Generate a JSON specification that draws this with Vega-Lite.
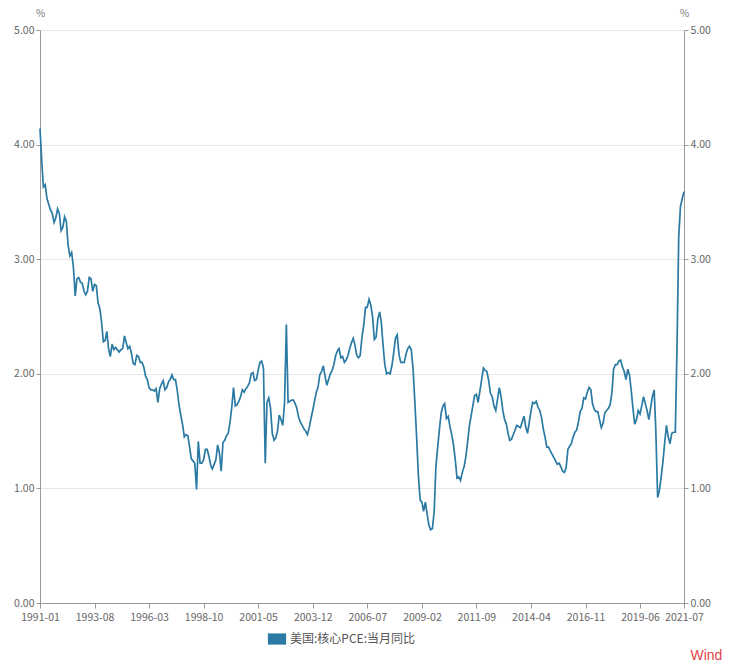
{
"$schema": "https://vega.github.io/schema/vega-lite/v6.json",
"width": 644, "height": 573,
"autosize": {"type": "none"},
"padding": {"left": 40, "top": 30, "right": 66, "bottom": 68},
"background": "white",
"config": {
 "font": "Noto Sans CJK SC",
 "view": {"stroke": null},
 "axis": {"labelColor": "#666", "labelFontSize": 10.5, "domainColor": "#999", "tickColor": "#999", "gridColor": "#e6e6e6", "titleColor": "#777", "titleFontWeight": "normal", "titleFontSize": 10}
},
"title": {"text": "Wind", "orient": "bottom", "anchor": "end", "color": "#e0434a", "fontSize": 14, "fontWeight": "normal", "font": "Liberation Sans", "offset": 4, "dx": 12},
"datasets": {"pce": [
{"d":"1991-01","v":4.14},{"d":"1991-02","v":3.85},{"d":"1991-03","v":3.63},{"d":"1991-04","v":3.65},{"d":"1991-05","v":3.53},{"d":"1991-06","v":3.48},{"d":"1991-07","v":3.43},{"d":"1991-08","v":3.40},{"d":"1991-09","v":3.32},{"d":"1991-10","v":3.36},{"d":"1991-11","v":3.44},{"d":"1991-12","v":3.40},
{"d":"1992-01","v":3.25},{"d":"1992-02","v":3.28},{"d":"1992-03","v":3.37},{"d":"1992-04","v":3.33},{"d":"1992-05","v":3.12},{"d":"1992-06","v":3.03},{"d":"1992-07","v":3.06},{"d":"1992-08","v":2.93},{"d":"1992-09","v":2.68},{"d":"1992-10","v":2.83},{"d":"1992-11","v":2.84},{"d":"1992-12","v":2.80},
{"d":"1993-01","v":2.79},{"d":"1993-02","v":2.72},{"d":"1993-03","v":2.69},{"d":"1993-04","v":2.72},{"d":"1993-05","v":2.84},{"d":"1993-06","v":2.83},{"d":"1993-07","v":2.72},{"d":"1993-08","v":2.78},{"d":"1993-09","v":2.77},{"d":"1993-10","v":2.62},{"d":"1993-11","v":2.57},{"d":"1993-12","v":2.45},
{"d":"1994-01","v":2.28},{"d":"1994-02","v":2.29},{"d":"1994-03","v":2.37},{"d":"1994-04","v":2.22},{"d":"1994-05","v":2.15},{"d":"1994-06","v":2.26},{"d":"1994-07","v":2.21},{"d":"1994-08","v":2.23},{"d":"1994-09","v":2.21},{"d":"1994-10","v":2.19},{"d":"1994-11","v":2.21},{"d":"1994-12","v":2.22},
{"d":"1995-01","v":2.33},{"d":"1995-02","v":2.27},{"d":"1995-03","v":2.22},{"d":"1995-04","v":2.24},{"d":"1995-05","v":2.18},{"d":"1995-06","v":2.09},{"d":"1995-07","v":2.08},{"d":"1995-08","v":2.16},{"d":"1995-09","v":2.15},{"d":"1995-10","v":2.10},{"d":"1995-11","v":2.10},{"d":"1995-12","v":2.06},
{"d":"1996-01","v":1.98},{"d":"1996-02","v":1.95},{"d":"1996-03","v":1.88},{"d":"1996-04","v":1.86},{"d":"1996-05","v":1.86},{"d":"1996-06","v":1.85},{"d":"1996-07","v":1.87},{"d":"1996-08","v":1.75},{"d":"1996-09","v":1.87},{"d":"1996-10","v":1.91},{"d":"1996-11","v":1.94},{"d":"1996-12","v":1.86},
{"d":"1997-01","v":1.88},{"d":"1997-02","v":1.93},{"d":"1997-03","v":1.95},{"d":"1997-04","v":1.99},{"d":"1997-05","v":1.95},{"d":"1997-06","v":1.95},{"d":"1997-07","v":1.86},{"d":"1997-08","v":1.73},{"d":"1997-09","v":1.64},{"d":"1997-10","v":1.56},{"d":"1997-11","v":1.45},{"d":"1997-12","v":1.47},
{"d":"1998-01","v":1.46},{"d":"1998-02","v":1.36},{"d":"1998-03","v":1.26},{"d":"1998-04","v":1.24},{"d":"1998-05","v":1.22},{"d":"1998-06","v":0.99},{"d":"1998-07","v":1.41},{"d":"1998-08","v":1.22},{"d":"1998-09","v":1.22},{"d":"1998-10","v":1.25},{"d":"1998-11","v":1.34},{"d":"1998-12","v":1.34},
{"d":"1999-01","v":1.28},{"d":"1999-02","v":1.20},{"d":"1999-03","v":1.17},{"d":"1999-04","v":1.21},{"d":"1999-05","v":1.25},{"d":"1999-06","v":1.38},{"d":"1999-07","v":1.31},{"d":"1999-08","v":1.15},{"d":"1999-09","v":1.40},{"d":"1999-10","v":1.42},{"d":"1999-11","v":1.46},{"d":"1999-12","v":1.48},
{"d":"2000-01","v":1.58},{"d":"2000-02","v":1.71},{"d":"2000-03","v":1.88},{"d":"2000-04","v":1.72},{"d":"2000-05","v":1.73},{"d":"2000-06","v":1.76},{"d":"2000-07","v":1.80},{"d":"2000-08","v":1.86},{"d":"2000-09","v":1.84},{"d":"2000-10","v":1.87},{"d":"2000-11","v":1.89},{"d":"2000-12","v":1.92},
{"d":"2001-01","v":2.00},{"d":"2001-02","v":2.01},{"d":"2001-03","v":1.94},{"d":"2001-04","v":1.95},{"d":"2001-05","v":2.03},{"d":"2001-06","v":2.10},{"d":"2001-07","v":2.11},{"d":"2001-08","v":2.05},{"d":"2001-09","v":1.22},{"d":"2001-10","v":1.75},{"d":"2001-11","v":1.79},{"d":"2001-12","v":1.70},
{"d":"2002-01","v":1.48},{"d":"2002-02","v":1.42},{"d":"2002-03","v":1.44},{"d":"2002-04","v":1.50},{"d":"2002-05","v":1.64},{"d":"2002-06","v":1.60},{"d":"2002-07","v":1.55},{"d":"2002-08","v":1.75},{"d":"2002-09","v":2.43},{"d":"2002-10","v":1.75},{"d":"2002-11","v":1.76},{"d":"2002-12","v":1.77},
{"d":"2003-01","v":1.77},{"d":"2003-02","v":1.74},{"d":"2003-03","v":1.70},{"d":"2003-04","v":1.62},{"d":"2003-05","v":1.58},{"d":"2003-06","v":1.55},{"d":"2003-07","v":1.52},{"d":"2003-08","v":1.50},{"d":"2003-09","v":1.47},{"d":"2003-10","v":1.53},{"d":"2003-11","v":1.61},{"d":"2003-12","v":1.68},
{"d":"2004-01","v":1.76},{"d":"2004-02","v":1.84},{"d":"2004-03","v":1.88},{"d":"2004-04","v":1.99},{"d":"2004-05","v":2.02},{"d":"2004-06","v":2.07},{"d":"2004-07","v":1.98},{"d":"2004-08","v":1.90},{"d":"2004-09","v":1.95},{"d":"2004-10","v":2.00},{"d":"2004-11","v":2.03},{"d":"2004-12","v":2.08},
{"d":"2005-01","v":2.16},{"d":"2005-02","v":2.20},{"d":"2005-03","v":2.22},{"d":"2005-04","v":2.14},{"d":"2005-05","v":2.15},{"d":"2005-06","v":2.10},{"d":"2005-07","v":2.12},{"d":"2005-08","v":2.16},{"d":"2005-09","v":2.22},{"d":"2005-10","v":2.27},{"d":"2005-11","v":2.31},{"d":"2005-12","v":2.25},
{"d":"2006-01","v":2.16},{"d":"2006-02","v":2.14},{"d":"2006-03","v":2.16},{"d":"2006-04","v":2.32},{"d":"2006-05","v":2.42},{"d":"2006-06","v":2.58},{"d":"2006-07","v":2.58},{"d":"2006-08","v":2.65},{"d":"2006-09","v":2.60},{"d":"2006-10","v":2.50},{"d":"2006-11","v":2.30},{"d":"2006-12","v":2.32},
{"d":"2007-01","v":2.48},{"d":"2007-02","v":2.54},{"d":"2007-03","v":2.45},{"d":"2007-04","v":2.25},{"d":"2007-05","v":2.08},{"d":"2007-06","v":2.00},{"d":"2007-07","v":2.01},{"d":"2007-08","v":2.00},{"d":"2007-09","v":2.07},{"d":"2007-10","v":2.18},{"d":"2007-11","v":2.31},{"d":"2007-12","v":2.34},
{"d":"2008-01","v":2.17},{"d":"2008-02","v":2.10},{"d":"2008-03","v":2.10},{"d":"2008-04","v":2.10},{"d":"2008-05","v":2.17},{"d":"2008-06","v":2.22},{"d":"2008-07","v":2.24},{"d":"2008-08","v":2.21},{"d":"2008-09","v":2.04},{"d":"2008-10","v":1.76},{"d":"2008-11","v":1.45},{"d":"2008-12","v":1.12},
{"d":"2009-01","v":0.90},{"d":"2009-02","v":0.88},{"d":"2009-03","v":0.80},{"d":"2009-04","v":0.88},{"d":"2009-05","v":0.78},{"d":"2009-06","v":0.68},{"d":"2009-07","v":0.64},{"d":"2009-08","v":0.65},{"d":"2009-09","v":0.80},{"d":"2009-10","v":1.19},{"d":"2009-11","v":1.36},{"d":"2009-12","v":1.52},
{"d":"2010-01","v":1.66},{"d":"2010-02","v":1.72},{"d":"2010-03","v":1.74},{"d":"2010-04","v":1.61},{"d":"2010-05","v":1.63},{"d":"2010-06","v":1.54},{"d":"2010-07","v":1.47},{"d":"2010-08","v":1.38},{"d":"2010-09","v":1.25},{"d":"2010-10","v":1.09},{"d":"2010-11","v":1.10},{"d":"2010-12","v":1.07},
{"d":"2011-01","v":1.14},{"d":"2011-02","v":1.19},{"d":"2011-03","v":1.27},{"d":"2011-04","v":1.40},{"d":"2011-05","v":1.54},{"d":"2011-06","v":1.63},{"d":"2011-07","v":1.72},{"d":"2011-08","v":1.81},{"d":"2011-09","v":1.82},{"d":"2011-10","v":1.75},{"d":"2011-11","v":1.85},{"d":"2011-12","v":1.95},
{"d":"2012-01","v":2.05},{"d":"2012-02","v":2.03},{"d":"2012-03","v":2.02},{"d":"2012-04","v":1.94},{"d":"2012-05","v":1.83},{"d":"2012-06","v":1.80},{"d":"2012-07","v":1.72},{"d":"2012-08","v":1.68},{"d":"2012-09","v":1.78},{"d":"2012-10","v":1.88},{"d":"2012-11","v":1.80},{"d":"2012-12","v":1.68},
{"d":"2013-01","v":1.60},{"d":"2013-02","v":1.56},{"d":"2013-03","v":1.48},{"d":"2013-04","v":1.42},{"d":"2013-05","v":1.43},{"d":"2013-06","v":1.47},{"d":"2013-07","v":1.51},{"d":"2013-08","v":1.55},{"d":"2013-09","v":1.54},{"d":"2013-10","v":1.53},{"d":"2013-11","v":1.58},{"d":"2013-12","v":1.63},
{"d":"2014-01","v":1.54},{"d":"2014-02","v":1.48},{"d":"2014-03","v":1.57},{"d":"2014-04","v":1.67},{"d":"2014-05","v":1.75},{"d":"2014-06","v":1.74},{"d":"2014-07","v":1.76},{"d":"2014-08","v":1.71},{"d":"2014-09","v":1.68},{"d":"2014-10","v":1.62},{"d":"2014-11","v":1.52},{"d":"2014-12","v":1.45},
{"d":"2015-01","v":1.36},{"d":"2015-02","v":1.36},{"d":"2015-03","v":1.33},{"d":"2015-04","v":1.30},{"d":"2015-05","v":1.27},{"d":"2015-06","v":1.24},{"d":"2015-07","v":1.21},{"d":"2015-08","v":1.22},{"d":"2015-09","v":1.19},{"d":"2015-10","v":1.15},{"d":"2015-11","v":1.14},{"d":"2015-12","v":1.18},
{"d":"2016-01","v":1.34},{"d":"2016-02","v":1.37},{"d":"2016-03","v":1.39},{"d":"2016-04","v":1.45},{"d":"2016-05","v":1.49},{"d":"2016-06","v":1.51},{"d":"2016-07","v":1.58},{"d":"2016-08","v":1.67},{"d":"2016-09","v":1.70},{"d":"2016-10","v":1.79},{"d":"2016-11","v":1.78},{"d":"2016-12","v":1.84},
{"d":"2017-01","v":1.88},{"d":"2017-02","v":1.86},{"d":"2017-03","v":1.74},{"d":"2017-04","v":1.69},{"d":"2017-05","v":1.67},{"d":"2017-06","v":1.67},{"d":"2017-07","v":1.60},{"d":"2017-08","v":1.53},{"d":"2017-09","v":1.57},{"d":"2017-10","v":1.66},{"d":"2017-11","v":1.68},{"d":"2017-12","v":1.70},
{"d":"2018-01","v":1.73},{"d":"2018-02","v":1.84},{"d":"2018-03","v":2.04},{"d":"2018-04","v":2.08},{"d":"2018-05","v":2.08},{"d":"2018-06","v":2.11},{"d":"2018-07","v":2.12},{"d":"2018-08","v":2.06},{"d":"2018-09","v":2.02},{"d":"2018-10","v":1.95},{"d":"2018-11","v":2.04},{"d":"2018-12","v":1.99},
{"d":"2019-01","v":1.85},{"d":"2019-02","v":1.69},{"d":"2019-03","v":1.56},{"d":"2019-04","v":1.60},{"d":"2019-05","v":1.68},{"d":"2019-06","v":1.65},{"d":"2019-07","v":1.72},{"d":"2019-08","v":1.80},{"d":"2019-09","v":1.74},{"d":"2019-10","v":1.68},{"d":"2019-11","v":1.60},{"d":"2019-12","v":1.70},
{"d":"2020-01","v":1.80},{"d":"2020-02","v":1.86},{"d":"2020-03","v":1.50},{"d":"2020-04","v":0.92},{"d":"2020-05","v":0.98},{"d":"2020-06","v":1.10},{"d":"2020-07","v":1.23},{"d":"2020-08","v":1.40},{"d":"2020-09","v":1.55},{"d":"2020-10","v":1.45},{"d":"2020-11","v":1.39},{"d":"2020-12","v":1.48},
{"d":"2021-01","v":1.49},{"d":"2021-02","v":1.49},{"d":"2021-03","v":2.20},{"d":"2021-04","v":3.20},{"d":"2021-05","v":3.46},{"d":"2021-06","v":3.53},{"d":"2021-07","v":3.59}
]},
"data": {"name": "pce"},
"encoding": {
 "x": {"field": "d", "type": "temporal",
  "scale": {"type": "utc", "domain": [{"year": 1991, "month": 1, "date": 1, "utc": true}, {"year": 2021, "month": 7, "date": 1, "utc": true}]},
  "axis": {"title": null, "format": "%Y-%m", "grid": false, "tickSize": 5, "labelPadding": 4, "labelFlush": false, "labelOverlap": false,
   "values": [
    {"year": 1991, "month": 1, "date": 1, "utc": true}, {"year": 1993, "month": 8, "date": 1, "utc": true}, {"year": 1996, "month": 3, "date": 1, "utc": true},
    {"year": 1998, "month": 10, "date": 1, "utc": true}, {"year": 2001, "month": 5, "date": 1, "utc": true}, {"year": 2003, "month": 12, "date": 1, "utc": true},
    {"year": 2006, "month": 7, "date": 1, "utc": true}, {"year": 2009, "month": 2, "date": 1, "utc": true}, {"year": 2011, "month": 9, "date": 1, "utc": true},
    {"year": 2014, "month": 4, "date": 1, "utc": true}, {"year": 2016, "month": 11, "date": 1, "utc": true}, {"year": 2019, "month": 6, "date": 1, "utc": true},
    {"year": 2021, "month": 7, "date": 1, "utc": true}]}}
},
"layer": [
 {"mark": {"type": "line", "strokeWidth": 1.7, "interpolate": "linear"},
  "encoding": {
   "y": {"field": "v", "type": "quantitative", "scale": {"domain": [0, 5], "nice": false},
    "axis": {"orient": "left", "values": [0, 1, 2, 3, 4, 5], "format": ".2f", "title": "%", "titleAngle": 0, "titleX": 0, "titleY": -12, "titleAlign": "center", "titleBaseline": "bottom", "grid": true, "tickSize": 4, "labelPadding": 2}},
   "color": {"datum": "美国:核心PCE:当月同比", "type": "nominal", "scale": {"range": ["#2a7aa3"]},
    "legend": {"title": null, "orient": "none", "legendX": 230, "legendY": 602, "symbolType": "M-1.3,-0.8H1.3V0.8H-1.3Z", "symbolSize": 196, "labelFontSize": 12, "labelColor": "#555", "padding": 0, "labelOffset": 6,
     "encode": {"symbols": {"update": {"fill": {"value": "#2a7aa3"}, "strokeWidth": {"value": 0}}}}}}
  }},
 {"mark": {"type": "line", "strokeOpacity": 0},
  "encoding": {
   "y": {"field": "v", "type": "quantitative", "scale": {"domain": [0, 5], "nice": false},
    "axis": {"orient": "right", "values": [0, 1, 2, 3, 4, 5], "format": ".2f", "title": "%", "titleAngle": 0, "titleX": 0, "titleY": -12, "titleAlign": "center", "titleBaseline": "bottom", "grid": false, "tickSize": 4, "labelPadding": 2}}
  }}
],
"resolve": {"scale": {"y": "independent"}}
}
